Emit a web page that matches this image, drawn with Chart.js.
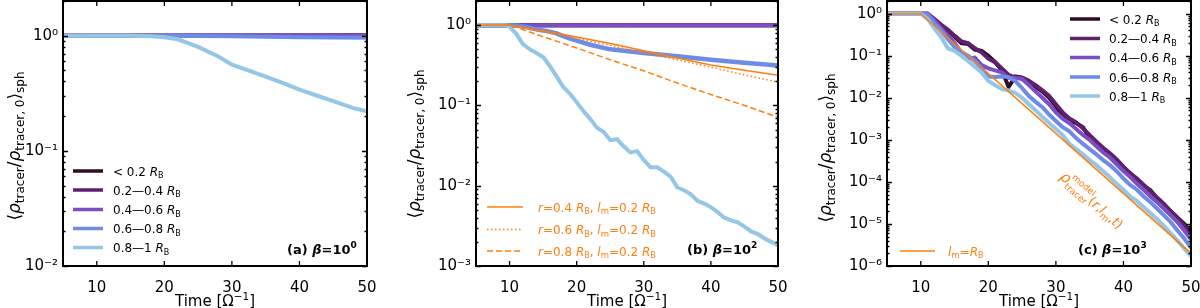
<!DOCTYPE html>
<html>
<head>
<meta charset="utf-8">
<script src="https://cdn.jsdelivr.net/npm/chart.js@4.4.0/dist/chart.umd.min.js"></script>
<style>
  html, body { margin: 0; padding: 0; background: #fff; overflow: hidden; }
  #wrap { position: relative; width: 1200px; height: 308px; }
  canvas { position: absolute; top: 0; }
</style>
</head>
<body>
<div id="wrap">
  <canvas id="panelA" width="400" height="308" style="left:0px"></canvas>
  <canvas id="panelB" width="400" height="308" style="left:400px"></canvas>
  <canvas id="panelC" width="400" height="308" style="left:800px"></canvas>
</div>
<script>
// ---- colours
const COL_R0 = '#2e0c25'
const COL_R1 = '#5e1f6c'
const COL_R2 = '#7a4fc5'
const COL_R3 = '#6d8ce6'
const COL_R4 = '#95c6e6'
const ORANGE = '#ff7f0e'

// ---- shared ticks
const X_TICKS = [10, 20, 30, 40, 50]
const A_YTICKS = [1e-2, 1e-1, 1]
const A_YLABELS = ['10⁻²', '10⁻¹', '10⁰']
const B_YTICKS = [1e-3, 1e-2, 1e-1, 1]
const B_YLABELS = ['10⁻³', '10⁻²', '10⁻¹', '10⁰']
const C_YTICKS = [1e-6, 1e-5, 1e-4, 1e-3, 1e-2, 1e-1, 1]
const C_YLABELS = ['10⁻⁶', '10⁻⁵', '10⁻⁴', '10⁻³', '10⁻²', '10⁻¹', '10⁰']

// ---- panel (a)  beta = 10^0
const A_T_FLAT = [5, 50]
const A_R0 = [1, 1]
const A_R1 = [1, 1.01]
const A_R2 = [1, 1]
const A_T3 = [5, 20, 30, 40, 50]
const A_R3 = [1, 1, 0.99, 0.97, 0.96]
const A_T4 = [5, 15, 18, 20, 22, 25, 28, 30, 32, 35, 38, 40, 42, 45, 48, 50]
const A_R4 = [1, 1, 0.99, 0.97, 0.93, 0.8, 0.66, 0.56, 0.51, 0.44, 0.38, 0.34, 0.31, 0.27, 0.235, 0.22]

// ---- panel (b)  beta = 10^2
const B_T_FLAT = [5, 50]
const B_R0 = [1, 1]
const B_R1 = [1, 1]
const B_R2 = [1, 1]
const B_T3 = [5, 10, 11, 12, 13, 14, 15, 16, 17, 18, 19, 20, 22, 25, 28, 30, 35, 40, 45, 50]
const B_R3 = [1, 1, 0.99, 0.96, 0.93, 0.89, 0.86, 0.83, 0.79, 0.73, 0.68, 0.64, 0.57, 0.5, 0.47, 0.45, 0.41, 0.37, 0.34, 0.315]
const B_T4 = [5, 9.5, 10, 11, 12, 13, 14, 15, 16, 17, 18, 19, 20, 21, 22, 23, 24, 25, 26, 27, 28, 29, 30,
  31, 32, 33, 34, 35, 36, 37, 38, 39, 40, 41, 42, 43, 44, 45, 46, 47, 48, 49, 50]
const B_R4 = [1, 1, 0.95, 0.78, 0.58, 0.5, 0.45, 0.4, 0.31, 0.23, 0.17, 0.14, 0.11, 0.085, 0.068, 0.053, 0.047,
  0.037, 0.038, 0.031, 0.026, 0.027, 0.021, 0.017, 0.017, 0.015, 0.013, 0.0095, 0.0088, 0.0078, 0.0065, 0.006,
  0.0054, 0.0047, 0.004, 0.0037, 0.0035, 0.0031, 0.0027, 0.0025, 0.0022, 0.002, 0.0018]
const B_TM = [5, 10, 15, 20, 25, 30, 35, 40, 45, 50]
const B_M04 = [1, 1, 0.85, 0.71, 0.59, 0.48, 0.39, 0.32, 0.275, 0.237]
const B_M06 = [1, 1, 0.83, 0.68, 0.56, 0.45, 0.37, 0.3, 0.24, 0.195]
const B_M08 = [1, 1, 0.72, 0.52, 0.37, 0.27, 0.19, 0.137, 0.1, 0.071]

// ---- panel (c)  beta = 10^3
const C_T = [5, 10, 11, 12, 13, 14, 15, 16, 17, 18, 19, 20, 21, 22, 23, 24, 25, 26, 27, 28, 29, 30,
  31, 32, 33, 34, 35, 36, 37, 38, 39, 40, 41, 42, 43, 44, 45, 46, 47, 48, 49, 50]
const C_R0 = [1, 1, 1, 0.7, 0.5, 0.4, 0.28, 0.2, 0.19, 0.14, 0.13, 0.1, 0.07, 0.045, 0.018, 0.032, 0.03, 0.025,
  0.018, 0.014, 0.01, 6.3e-3, 3.5e-3, 2.8e-3, 2.5e-3, 2e-3, 1.1e-3, 8e-4, 5.6e-4, 4.5e-4, 3.2e-4, 2e-4, 1.6e-4,
  1.1e-4, 8e-5, 6.3e-5, 4e-5, 2.8e-5, 2e-5, 1.4e-5, 1e-5, 6.3e-6]
const C_R1 = [1, 1, 1, 0.75, 0.55, 0.42, 0.3, 0.22, 0.2, 0.15, 0.12, 0.085, 0.07, 0.05, 0.035, 0.03, 0.03, 0.025,
  0.02, 0.015, 0.011, 7e-3, 4.5e-3, 3.2e-3, 2.6e-3, 1.9e-3, 1.3e-3, 9e-4, 6.5e-4, 4.8e-4, 3.4e-4, 2.3e-4, 1.6e-4,
  1.2e-4, 8.5e-5, 6e-5, 4.2e-5, 3e-5, 2e-5, 1.4e-5, 9e-6, 5.5e-6]
const C_R2 = [1, 1, 1, 0.7, 0.45, 0.3, 0.2, 0.12, 0.085, 0.09, 0.06, 0.05, 0.045, 0.04, 0.03, 0.03, 0.028, 0.02,
  0.014, 0.01, 7e-3, 4.5e-3, 3.2e-3, 2.5e-3, 1.8e-3, 1.3e-3, 1e-3, 7e-4, 5e-4, 3.8e-4, 2.6e-4, 1.8e-4, 1.3e-4,
  9e-5, 6.5e-5, 4.5e-5, 3.3e-5, 2.3e-5, 1.6e-5, 1.1e-5, 7e-6, 4.3e-6]
const C_R3 = [1, 1, 0.95, 0.6, 0.4, 0.25, 0.16, 0.12, 0.1, 0.075, 0.05, 0.032, 0.031, 0.032, 0.031, 0.025, 0.017,
  0.011, 8e-3, 6e-3, 4e-3, 2.8e-3, 2e-3, 1.6e-3, 1.1e-3, 8e-4, 6e-4, 4.5e-4, 3.3e-4, 2.5e-4, 1.8e-4, 1.2e-4,
  8.5e-5, 6.5e-5, 4.5e-5, 3.3e-5, 2.3e-5, 1.6e-5, 1.1e-5, 7e-6, 4.5e-6, 2.7e-6]
const C_R4 = [1, 1, 0.75, 0.45, 0.28, 0.15, 0.13, 0.1, 0.075, 0.055, 0.04, 0.025, 0.02, 0.016, 0.015, 0.013, 0.01,
  7e-3, 5e-3, 3.5e-3, 2.5e-3, 1.8e-3, 1.3e-3, 8e-4, 6e-4, 4.5e-4, 3.3e-4, 2.5e-4, 1.8e-4, 1.3e-4, 9e-5, 6.5e-5,
  4.5e-5, 3.5e-5, 2.5e-5, 1.8e-5, 1.3e-5, 9e-6, 6e-6, 4e-6, 2.6e-6, 1.7e-6]
const C_TM = [5, 10, 50]
const C_MODEL = [1, 1, 2e-6]

const FAMILY = '"DejaVu Sans", sans-serif'

// rich text: parts are {t, s, it, b, dy, back}; back = draw stacked under previous part
const fontOf = p => (p.it ? 'italic ' : '') + (p.b ? 'bold ' : '') + p.s + 'px ' + FAMILY

function layoutRich(ctx, parts) {
  let cx = 0, prevStart = 0, prevW = 0
  const out = []
  for (const p of parts) {
    ctx.font = fontOf(p)
    const m = ctx.measureText(p.t).width
    let sx = p.back ? prevStart : cx
    out.push([p, sx])
    if (p.back) cx = prevStart + Math.max(prevW, m)
    else { prevStart = sx; prevW = m; cx = sx + m }
  }
  return { out, width: cx }
}

function rich(ctx, parts, x, y, color, align) {
  const { out, width } = layoutRich(ctx, parts)
  const x0 = align === 'center' ? x - width / 2 : align === 'right' ? x - width : x
  ctx.fillStyle = color
  ctx.textAlign = 'left'
  ctx.textBaseline = 'alphabetic'
  for (const [p, sx] of out) {
    ctx.font = fontOf(p)
    ctx.fillText(p.t, x0 + sx, y + (p.dy || 0))
  }
}

const RB = (s) => [{ t: 'R', s, it: 1 }, { t: 'B', s: Math.round(s * 0.7), dy: 2.5 }]
const SHELL_LABELS = [
  [{ t: '< 0.2 ', s: 12 }, ...RB(12)],
  [{ t: '0.2—0.4 ', s: 12 }, ...RB(12)],
  [{ t: '0.4—0.6 ', s: 12 }, ...RB(12)],
  [{ t: '0.6—0.8 ', s: 12 }, ...RB(12)],
  [{ t: '0.8—1 ', s: 12 }, ...RB(12)]
]
const SHELL_COLORS = [COL_R0, COL_R1, COL_R2, COL_R3, COL_R4]

const YTITLE = [
  { t: '⟨', s: 17 }, { t: 'ρ', s: 17, it: 1 }, { t: 'tracer', s: 12, dy: 4 }, { t: '/', s: 17 },
  { t: 'ρ', s: 17, it: 1 }, { t: 'tracer, 0', s: 12, dy: 4 }, { t: '⟩', s: 17 }, { t: 'sph', s: 12, dy: 4 }
]
const XTITLE = [{ t: 'Time [Ω', s: 15 }, { t: '−1', s: 10.5, dy: -6 }, { t: ']', s: 15 }]

const panelLabel = (letter, exp) => [
  { t: '(' + letter + ') ', s: 13, b: 1 }, { t: 'β', s: 13, b: 1, it: 1 }, { t: '=10', s: 13, b: 1 },
  { t: exp, s: 9, b: 1, dy: -6 }
]

function legendLine(ctx, x0, x1, y, color, width, dash) {
  ctx.save()
  ctx.strokeStyle = color
  ctx.lineWidth = width
  ctx.setLineDash(dash || [])
  ctx.beginPath()
  ctx.moveTo(x0, y)
  ctx.lineTo(x1, y)
  ctx.stroke()
  ctx.restore()
}

function axisTitles(chart, yx, yy) {
  const { ctx, chartArea: a } = chart
  ctx.save()
  ctx.translate(yx, yy)
  ctx.rotate(-Math.PI / 2)
  rich(ctx, YTITLE, 0, 0, '#000', 'center')
  ctx.restore()
  rich(ctx, XTITLE, (a.left + a.right) / 2, 306, '#000', 'center')
}

// frame with inward ticks on all four sides
const frame = {
  id: 'frame',
  afterDatasetsDraw(chart) {
    const { ctx, chartArea: a, scales: { x, y } } = chart
    ctx.save()
    ctx.strokeStyle = '#000'
    ctx.lineWidth = 1.3
    ctx.beginPath()
    for (const v of X_TICKS) {
      const px = x.getPixelForValue(v)
      ctx.moveTo(px, a.bottom); ctx.lineTo(px, a.bottom - 5)
      ctx.moveTo(px, a.top); ctx.lineTo(px, a.top + 5)
    }
    const lo = Math.floor(Math.log10(y.min)), hi = Math.ceil(Math.log10(y.max))
    for (let e = lo; e <= hi; e++) {
      for (let k = 1; k < 10; k++) {
        const v = k * Math.pow(10, e)
        if (v < y.min * 0.999 || v > y.max) continue
        const py = Math.round(y.getPixelForValue(v)) + 0.5
        const len = k === 1 ? 5 : 2.5
        ctx.moveTo(a.left, py); ctx.lineTo(a.left + len, py)
        ctx.moveTo(a.right, py); ctx.lineTo(a.right - len, py)
      }
    }
    ctx.stroke()
    ctx.lineWidth = 2
    ctx.strokeRect(a.left, a.top, a.right - a.left, a.bottom - a.top)
    ctx.restore()
  }
}

function series(label, xs, ys, color, width, order, dash) {
  return {
    label,
    data: xs.map((x, i) => ({ x, y: ys[i] })),
    borderColor: color,
    borderWidth: width,
    borderDash: dash || [],
    pointRadius: 0,
    tension: 0,
    fill: false,
    order
  }
}

function makePanel(id, datasets, yMin, yTicks, yLabels, yWidth, padRight, extra) {
  const tickFont = { family: FAMILY, size: 15 }
  return new Chart(document.getElementById(id), {
    type: 'line',
    data: { datasets },
    options: {
      responsive: false,
      animation: false,
      events: [],
      layout: { padding: { left: 0, right: padRight, top: 1, bottom: 0 } },
      plugins: { legend: { display: false }, tooltip: { enabled: false } },
      scales: {
        x: {
          type: 'linear', min: 5, max: 50,
          grid: { display: false, drawTicks: false },
          border: { display: false },
          afterBuildTicks: s => { s.ticks = X_TICKS.map(v => ({ value: v })) },
          afterFit: s => { s.height = 42; s.paddingLeft = 0; s.paddingRight = 0 },
          ticks: { color: '#000', font: tickFont, padding: 13, maxRotation: 0, autoSkip: false }
        },
        y: {
          type: 'logarithmic', min: yMin, max: 2,
          grid: { display: false, drawTicks: false },
          border: { display: false },
          afterBuildTicks: s => { s.ticks = yTicks.map(v => ({ value: v })) },
          afterFit: s => { s.width = yWidth; s.paddingTop = 0; s.paddingBottom = 0 },
          ticks: { color: '#000', font: tickFont, padding: 5, autoSkip: false, callback: (v, i) => yLabels[i] }
        }
      }
    },
    plugins: [frame, extra]
  })
}

// ---- (a)
makePanel('panelA', [
  series('< 0.2 RB', A_T_FLAT, A_R0, COL_R0, 4, 6),
  series('0.2-0.4 RB', A_T_FLAT, A_R1, COL_R1, 4, 5),
  series('0.4-0.6 RB', A_T_FLAT, A_R2, COL_R2, 4, 4),
  series('0.6-0.8 RB', A_T3, A_R3, COL_R3, 4, 3),
  series('0.8-1 RB', A_T4, A_R4, COL_R4, 4, 2)
], 1e-2, A_YTICKS, A_YLABELS, 63, 33, {
  id: 'textA',
  afterDraw(chart) {
    const ctx = chart.ctx
    axisTitles(chart, 20, 146)
    const ys = [171, 190, 209.5, 228.5, 247.5]
    ys.forEach((y, i) => {
      legendLine(ctx, 73, 103, y, SHELL_COLORS[i], 3.5)
      rich(ctx, SHELL_LABELS[i], 113, y + 4.5, '#000')
    })
    rich(ctx, panelLabel('a', '0'), 287, 254, '#000')
  }
})

// ---- (b)
const B_MODEL_LABELS = ['0.4', '0.6', '0.8'].map(r => [
  { t: 'r', s: 12, it: 1 }, { t: '=' + r + ' ', s: 12 }, ...RB(12), { t: ', ', s: 12 },
  { t: 'l', s: 12, it: 1 }, { t: 'm', s: 8.5, dy: 2.5 }, { t: '=0.2 ', s: 12 }, ...RB(12)
])
const B_DASHES = [[], [1.5, 2.5], [6, 3]]

makePanel('panelB', [
  series('< 0.2 RB', B_T_FLAT, B_R0, COL_R0, 4, 6),
  series('0.2-0.4 RB', B_T_FLAT, B_R1, COL_R1, 4, 5),
  series('0.4-0.6 RB', B_T_FLAT, B_R2, COL_R2, 4, 4),
  series('0.6-0.8 RB', B_T3, B_R3, COL_R3, 4.5, 3),
  series('0.8-1 RB', B_T4, B_R4, COL_R4, 4, 2),
  series('r=0.4', B_TM, B_M04, ORANGE, 1.5, 1, B_DASHES[0]),
  series('r=0.6', B_TM, B_M06, ORANGE, 1.5, 1, B_DASHES[1]),
  series('r=0.8', B_TM, B_M08, ORANGE, 1.5, 1, B_DASHES[2])
], 1e-3, B_YTICKS, B_YLABELS, 76, 22, {
  id: 'textB',
  afterDraw(chart) {
    const ctx = chart.ctx
    axisTitles(chart, 20, 144)
    const ys = [207, 229.5, 251]
    ys.forEach((y, i) => {
      legendLine(ctx, 87, 123, y, ORANGE, 1.5, B_DASHES[i])
      rich(ctx, B_MODEL_LABELS[i], 138, y + 4.5, ORANGE)
    })
    rich(ctx, panelLabel('b', '2'), 287, 254, '#000')
  }
})

// ---- (c)
const C_MODEL_TEXT = [
  { t: 'ρ', s: 15, it: 1 }, { t: 'model', s: 9, dy: -8 }, { t: 'tracer', s: 9, dy: 4, back: 1 },
  { t: '(', s: 13 }, { t: 'r', s: 13, it: 1 }, { t: ',', s: 13 }, { t: 'l', s: 13, it: 1 },
  { t: 'm', s: 9, dy: 3 }, { t: ',', s: 13 }, { t: 't', s: 13, it: 1 }, { t: ')', s: 13 }
]

makePanel('panelC', [
  series('< 0.2 RB', C_T, C_R0, COL_R0, 4, 6),
  series('0.2-0.4 RB', C_T, C_R1, COL_R1, 4, 5),
  series('0.4-0.6 RB', C_T, C_R2, COL_R2, 4, 4),
  series('0.6-0.8 RB', C_T, C_R3, COL_R3, 4, 3),
  series('0.8-1 RB', C_T, C_R4, COL_R4, 4, 2),
  series('lm=RB', C_TM, C_MODEL, ORANGE, 1.5, 1)
], 1e-6, C_YTICKS, C_YLABELS, 87, 9, {
  id: 'textC',
  afterDraw(chart) {
    const ctx = chart.ctx
    axisTitles(chart, 31, 148)
    const ys = [19, 38.5, 57.5, 77, 96]
    ys.forEach((y, i) => {
      legendLine(ctx, 270, 300, y, SHELL_COLORS[i], 3.5)
      rich(ctx, SHELL_LABELS[i], 309, y + 4.5, '#000')
    })
    legendLine(ctx, 100, 135, 251, ORANGE, 1.5)
    rich(ctx, [{ t: 'l', s: 12, it: 1 }, { t: 'm', s: 8.5, dy: 2.5 }, { t: '=', s: 12 }, ...RB(12)], 148, 255.5, ORANGE)
    rich(ctx, panelLabel('c', '3'), 278, 254, '#000')
    ctx.save()
    ctx.translate(292, 200)
    ctx.rotate(41 * Math.PI / 180)
    rich(ctx, C_MODEL_TEXT, 0, 5, ORANGE, 'center')
    ctx.restore()
  }
})
</script>
</body>
</html>
